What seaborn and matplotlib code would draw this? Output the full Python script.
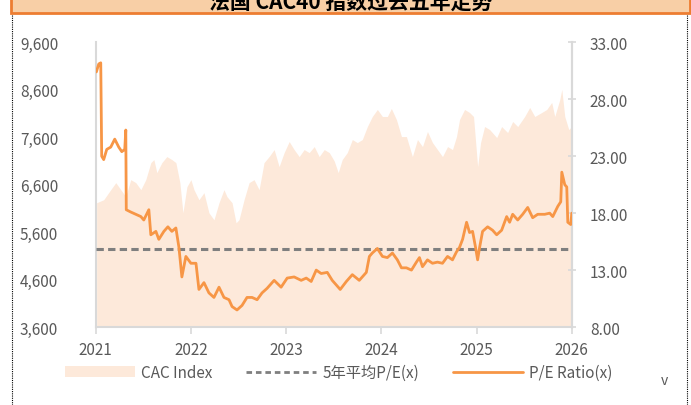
import matplotlib
matplotlib.use("Agg")
import numpy as np
import pandas as pd
import matplotlib.pyplot as plt
import seaborn as sns
from matplotlib.patches import Patch, Rectangle
from matplotlib.lines import Line2D

TITLE = "法国 CAC40 指数过去五年走势"

# CAC index (left axis), time in decimal years
CAC_T = [2021.01, 2021.084, 2021.158, 2021.211, 2021.263, 2021.316, 2021.368, 2021.421,
         2021.474, 2021.526, 2021.579, 2021.611, 2021.642, 2021.695, 2021.747, 2021.800,
         2021.842, 2021.884, 2021.916, 2021.958, 2022.000, 2022.032, 2022.084, 2022.137,
         2022.189, 2022.242, 2022.295, 2022.347, 2022.379, 2022.432, 2022.474, 2022.505,
         2022.558, 2022.611, 2022.663, 2022.716, 2022.768, 2022.821, 2022.874, 2022.926,
         2022.979, 2023.032, 2023.084, 2023.137, 2023.189, 2023.242, 2023.295, 2023.347,
         2023.400, 2023.453, 2023.505, 2023.547, 2023.589, 2023.642, 2023.695, 2023.747,
         2023.800, 2023.853, 2023.905, 2023.958, 2024.011, 2024.063, 2024.105, 2024.158,
         2024.211, 2024.263, 2024.326, 2024.379, 2024.432, 2024.484, 2024.537, 2024.589,
         2024.642, 2024.695, 2024.747, 2024.789, 2024.821, 2024.874, 2024.926, 2024.968,
         2025.011, 2025.042, 2025.084, 2025.137, 2025.211, 2025.263, 2025.326, 2025.379,
         2025.432, 2025.505, 2025.558, 2025.611, 2025.684, 2025.737, 2025.789, 2025.821,
         2025.874, 2025.895, 2025.926, 2025.968, 2026.000]
CAC_V = [6220, 6283, 6495, 6643, 6495, 6347, 6706, 6643,
         6495, 6706, 7065, 7129, 6854, 7065, 7192, 7129,
         7065, 6643, 6008, 6558, 6706, 6495, 6283, 6431,
         6008, 5860, 6220, 6495, 6347, 6220, 5797, 5861,
         6283, 6643, 6706, 6495, 7065, 7192, 7340, 6981,
         7276, 7509, 7340, 7192, 7340, 7276, 7403, 7192,
         7340, 7276, 7100, 6854, 7129, 7276, 7551, 7487,
         7551, 7825, 8037, 8185, 8037, 8037, 8206, 7973,
         7614, 7614, 7192, 7551, 7403, 7720, 7487, 7340,
         7192, 7403, 7340, 7614, 7973, 8185, 8121, 8037,
         6981, 7487, 7825, 7762, 7593, 7825, 7699, 7931,
         7825, 8037, 8227, 8037, 8121, 8185, 8333, 8037,
         8396, 8608, 8037, 7762, 7825]

# P/E ratio (right axis)
PE_T = [2021.007, 2021.032, 2021.053, 2021.063, 2021.084, 2021.116, 2021.158, 2021.200,
        2021.242, 2021.274, 2021.305, 2021.316, 2021.321, 2021.368, 2021.421, 2021.474,
        2021.505, 2021.558, 2021.579, 2021.632, 2021.663, 2021.716, 2021.758, 2021.800,
        2021.842, 2021.874, 2021.905, 2021.947, 2022.000, 2022.053, 2022.084, 2022.137,
        2022.189, 2022.242, 2022.295, 2022.347, 2022.400, 2022.432, 2022.484, 2022.537,
        2022.589, 2022.642, 2022.695, 2022.747, 2022.800, 2022.874, 2022.947, 2023.011,
        2023.084, 2023.158, 2023.211, 2023.263, 2023.316, 2023.368, 2023.432, 2023.484,
        2023.568, 2023.632, 2023.695, 2023.768, 2023.842, 2023.874, 2023.905, 2023.958,
        2024.011, 2024.063, 2024.116, 2024.168, 2024.211, 2024.263, 2024.316, 2024.368,
        2024.400, 2024.432, 2024.484, 2024.537, 2024.589, 2024.642, 2024.695, 2024.747,
        2024.789, 2024.821, 2024.853, 2024.895, 2024.926, 2024.958, 2024.989, 2025.011,
        2025.032, 2025.063, 2025.116, 2025.168, 2025.211, 2025.263, 2025.316, 2025.347,
        2025.379, 2025.432, 2025.484, 2025.537, 2025.589, 2025.642, 2025.716, 2025.768,
        2025.800, 2025.853, 2025.884, 2025.895, 2025.926, 2025.947, 2025.958, 2025.989,
        2026.000]
PE_V = [30.4, 31.1, 31.2, 23.0, 22.7, 23.6, 23.8, 24.5,
        23.8, 23.4, 23.6, 25.3, 18.3, 18.1, 17.9, 17.7,
        17.4, 18.3, 16.1, 16.4, 15.7, 16.4, 16.8, 16.4,
        16.7, 15.0, 12.4, 14.2, 13.6, 13.6, 11.3, 11.9,
        11.0, 10.6, 11.5, 10.6, 10.4, 9.8, 9.5, 9.9,
        10.6, 10.6, 10.4, 11.0, 11.4, 12.1, 11.5, 12.3,
        12.4, 12.1, 12.3, 12.0, 13.0, 12.7, 12.8, 12.1,
        11.3, 12.0, 12.6, 12.1, 12.8, 14.2, 14.5, 14.9,
        14.2, 14.1, 14.5, 13.9, 13.2, 13.2, 13.0, 13.7,
        14.1, 13.3, 13.9, 13.6, 13.7, 13.6, 14.2, 13.9,
        14.6, 15.0, 15.7, 17.2, 16.3, 16.4, 15.0, 13.9,
        15.0, 16.4, 16.8, 16.5, 16.1, 16.5, 17.7, 17.2,
        17.9, 17.4, 17.9, 18.5, 17.6, 17.9, 17.9, 18.0,
        17.7, 18.6, 19.0, 21.6, 20.5, 20.3, 17.2, 17.0,
        18.0]

PE_AVG = 14.87

YEARS = [2021, 2022, 2023, 2024, 2025, 2026]
LEFT_TICKS = [3600, 4600, 5600, 6600, 7600, 8600, 9600]
RIGHT_TICKS = [8, 13, 18, 23, 28, 33]
LEGEND_LABELS = ["CAC Index", "5年平均P/E(x)", "P/E Ratio(x)"]

FILL_C = "#fde9da"
LINE_C = "#f79646"
DASH_C = "#7f7f7f"
TEXT_C = "#595959"
SPINE_C = "#d9d9d9"

sns.set_theme(style="white")
plt.rcParams["font.family"] = ["Noto Sans CJK SC", "DejaVu Sans"]

cac = pd.DataFrame({"t": CAC_T, "v": CAC_V})
pe = pd.DataFrame({"t": PE_T, "v": PE_V})

fig = plt.figure(figsize=(6.91, 4.06), dpi=100)
ax = fig.add_axes([0.1385, 0.192, 0.6890, 0.7013])

ax.fill_between(cac["t"], LEFT_TICKS[0], cac["v"], color=FILL_C, lw=0, zorder=1)
ax.set_ylim(LEFT_TICKS[0], LEFT_TICKS[-1])
ax.set_xlim(YEARS[0], YEARS[-1])
ax.set_yticks(LEFT_TICKS)
ax.set_yticklabels([f"{v:,}" for v in LEFT_TICKS])
ax.set_xticks(YEARS)
ax.set_xticklabels([str(y) for y in YEARS])

ax2 = ax.twinx()
ax2.axhline(PE_AVG, color=DASH_C, lw=2.2, dashes=(2.4, 1.4), zorder=2)
sns.lineplot(data=pe, x="t", y="v", ax=ax2, color=LINE_C, lw=2.0, zorder=3)
ax2.set_ylim(RIGHT_TICKS[0], RIGHT_TICKS[-1])
ax2.set_yticks(RIGHT_TICKS)
ax2.set_yticklabels([f"{v:.2f}" for v in RIGHT_TICKS])
ax2.set_xlabel("")
ax2.set_ylabel("")
ax.set_xlabel("")
ax.set_ylabel("")

for a in (ax, ax2):
    a.spines["top"].set_visible(False)
    for s in ("left", "right", "bottom"):
        a.spines[s].set_color(SPINE_C)
        a.spines[s].set_linewidth(1.5)
ax2.spines["left"].set_visible(False)
ax2.spines["bottom"].set_visible(False)

ax.tick_params(axis="y", left=False, labelsize=11, labelcolor=TEXT_C, pad=21)
ax.tick_params(axis="x", bottom=True, direction="out", length=5, width=1.2,
               color=SPINE_C, labelsize=11, labelcolor=TEXT_C, pad=5)
ax2.tick_params(axis="y", right=True, direction="inout", length=6, width=1.2,
                color=SPINE_C, labelsize=11, labelcolor=TEXT_C, pad=10)

handles = [
    Patch(facecolor=FILL_C, edgecolor="none"),
    Line2D([], [], color=DASH_C, lw=2.0, dashes=(2.0, 1.4)),
    Line2D([], [], color=LINE_C, lw=2.0),
]
leg = fig.legend(handles, LEGEND_LABELS, loc="center", bbox_to_anchor=(0.49, 0.080),
                 ncol=3, frameon=False, fontsize=11, handlelength=4.6,
                 handletextpad=0.4, columnspacing=2.2)
for t in leg.get_texts():
    t.set_color(TEXT_C)

# title banner, cut at the top edge
fig.patches.append(Rectangle((0.016, 0.966), 0.982, 0.1, transform=fig.transFigure,
                             facecolor="#f8cfa6", edgecolor="#ed7d31", lw=2, zorder=5))
fig.text(0.507, 0.994, TITLE, ha="center", va="center", fontsize=15,
         fontweight="bold", color="black", zorder=6, clip_on=False)

# dotted frame
for xf in (0.017, 0.994):
    fig.add_artist(Line2D([xf, xf], [0.0, 0.964], transform=fig.transFigure,
                          color="black", lw=0.8, ls=(0, (1, 1))))
fig.text(0.962, 0.062, "v", ha="center", va="center", fontsize=10, color=TEXT_C)

fig.savefig("out.png", dpi=100)
